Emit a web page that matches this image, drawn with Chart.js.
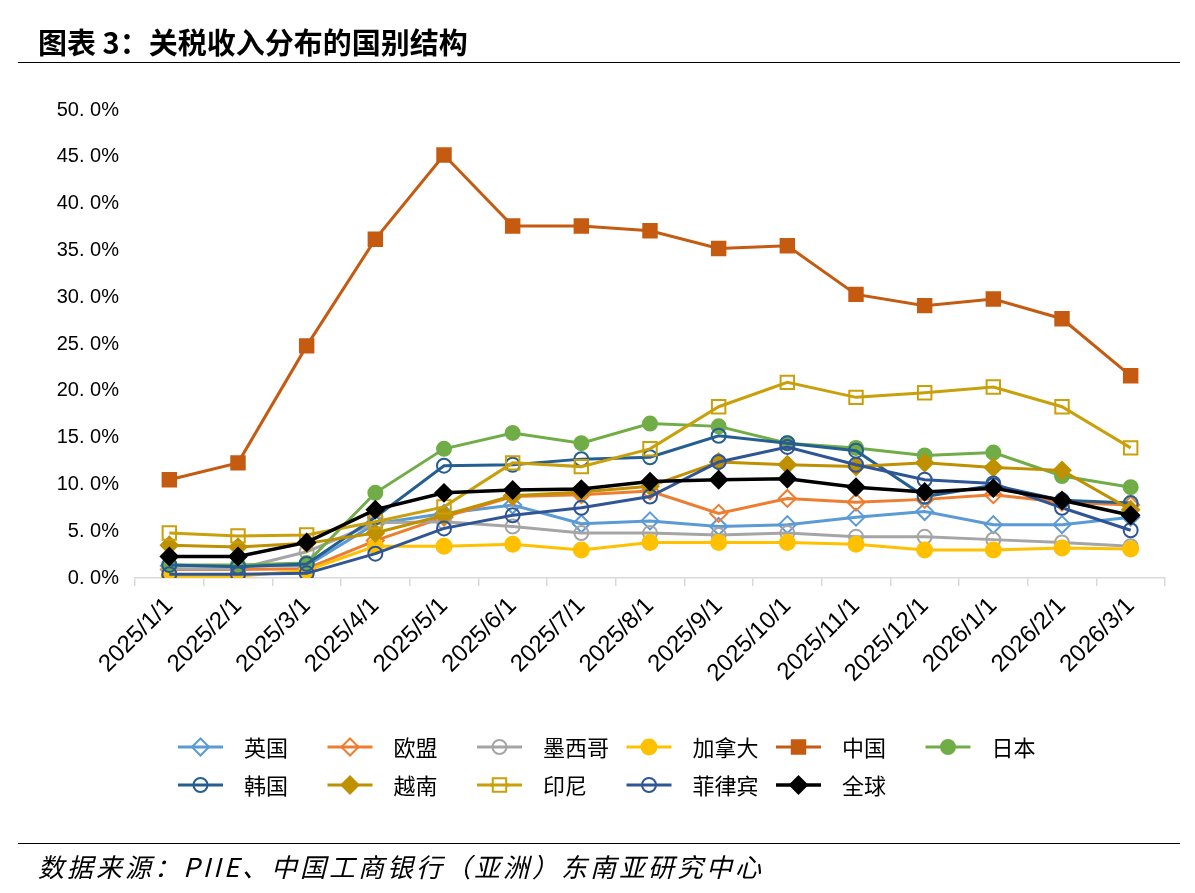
<!DOCTYPE html>
<html>
<head>
<meta charset="utf-8">
<script src="https://cdn.jsdelivr.net/npm/chart.js@4"></script>
<style>
  body { margin: 0; background: #fff; }
  #wrap { position: relative; width: 1195px; height: 893px; overflow: hidden; }
  #chart { position: absolute; left: 0; top: 0; }
  .title { position: absolute; left: 38px; top: 20px; font: bold 29px "Noto Sans CJK SC", sans-serif; color: #000; }
  .source { position: absolute; left: 38px; top: 847px; font: italic 26px "Noto Sans CJK SC", sans-serif; letter-spacing: 3px; color: #000; }
  .rule { position: absolute; left: 18px; width: 1162px; height: 1px; background: #000; }
</style>
</head>
<body>
<div id="wrap">
  <canvas id="chart" width="1195" height="893"></canvas>
  <div class="title">图表 3：关税收入分布的国别结构</div>
  <div class="rule" style="top:62px"></div>
  <div class="rule" style="top:843px"></div>
  <div class="source">数据来源：PIIE、中国工商银行（亚洲）东南亚研究中心</div>
</div>
<script>
// months on the x axis
const months = ['2025/1/1', '2025/2/1', '2025/3/1', '2025/4/1', '2025/5/1', '2025/6/1', '2025/7/1',
  '2025/8/1', '2025/9/1', '2025/10/1', '2025/11/1', '2025/12/1', '2026/1/1', '2026/2/1', '2026/3/1'];

// share of tariff revenue, %
const uk      = [1.3, 1.3, 1.3, 5.8, 6.9, 7.8, 5.8, 6.1, 5.5, 5.7, 6.5, 7.1, 5.7, 5.7, 6.5];
const eu      = [0.9, 0.9, 1.0, 4.0, 6.5, 8.7, 8.9, 9.3, 6.9, 8.5, 8.1, 8.4, 8.9, 8.1, 7.8];
const mexico  = [1.0, 1.0, 2.8, 5.9, 6.0, 5.5, 4.8, 4.8, 4.6, 4.8, 4.4, 4.4, 4.1, 3.8, 3.4];
const canada  = [0.2, 0.2, 0.8, 3.4, 3.4, 3.6, 3.0, 3.8, 3.8, 3.8, 3.6, 3.0, 3.0, 3.2, 3.1];
const china   = [10.5, 12.3, 24.8, 36.2, 45.2, 37.6, 37.6, 37.1, 35.2, 35.5, 30.3, 29.1, 29.8, 27.7, 21.6];
const japan   = [1.4, 1.4, 1.6, 9.1, 13.8, 15.5, 14.4, 16.5, 16.2, 14.4, 13.9, 13.1, 13.4, 10.9, 9.7];
const korea   = [1.4, 1.2, 1.5, 6.5, 12.0, 12.1, 12.7, 12.9, 15.2, 14.4, 13.6, 8.7, 9.9, 8.3, 8.0];
const vietnam = [3.5, 3.3, 3.7, 4.8, 6.7, 8.8, 9.2, 9.8, 12.4, 12.1, 11.9, 12.3, 11.8, 11.5, 7.3];
const india   = [4.8, 4.5, 4.6, 6.0, 7.6, 12.3, 11.9, 13.8, 18.3, 20.9, 19.3, 19.8, 20.4, 18.3, 13.9];
const phil    = [0.4, 0.4, 0.5, 2.6, 5.3, 6.7, 7.5, 8.7, 12.4, 14.0, 12.1, 10.5, 10.1, 7.5, 5.1];
const world   = [2.3, 2.3, 3.8, 7.3, 9.1, 9.4, 9.5, 10.3, 10.5, 10.6, 9.7, 9.2, 9.6, 8.3, 6.7];

const yTicks = [0, 5, 10, 15, 20, 25, 30, 35, 40, 45, 50];

// marker radius per style (chart.js rect/rectRot come out smaller than circles)
const markerSize = { circle: 7, rect: 9.5, rectRot: 8.5 };

function series(label, data, color, style, filled, extra) {
  return Object.assign({
    label: label,
    data: data,
    borderColor: color,
    backgroundColor: filled ? color : 'rgba(0,0,0,0)',
    borderWidth: 3,
    pointStyle: style,
    pointRadius: markerSize[style],
    pointBorderWidth: 2,
    pointBorderColor: color,
    pointBackgroundColor: filled ? color : 'rgba(0,0,0,0)',
    tension: 0
  }, extra || {});
}

const datasets = [
  series('英国', uk, '#5B9BD5', 'rectRot', false),
  series('欧盟', eu, '#ED7D31', 'rectRot', false),
  series('墨西哥', mexico, '#A5A5A5', 'circle', false),
  series('加拿大', canada, '#FFC000', 'circle', true, { pointRadius: 7.5 }),
  series('中国', china, '#C55A11', 'rect', true),
  series('日本', japan, '#70AD47', 'circle', true),
  series('韩国', korea, '#255E91', 'circle', false),
  series('越南', vietnam, '#BF9000', 'rectRot', true),
  series('印尼', india, '#C9A00A', 'rect', false),
  series('菲律宾', phil, '#2F5597', 'circle', false),
  series('全球', world, '#000000', 'rectRot', true, { borderWidth: 3.5 })
];
// later series sit on top, like the original
datasets.forEach((d, i) => { d.order = datasets.length - i; });

// legend: line with marker in the middle, 6 per row
const lineLegend = {
  id: 'lineLegend',
  afterDraw(chart) {
    const ctx = chart.ctx;
    const h = Chart.helpers;
    chart.data.datasets.forEach((ds, i) => {
      const row = Math.floor(i / 6), col = i % 6;
      const x0 = 178 + col * 149.5;
      const y = 747 + row * 38;
      const hollow = ds.pointBackgroundColor === 'rgba(0,0,0,0)';
      ctx.save();
      ctx.strokeStyle = ds.borderColor;
      ctx.lineWidth = ds.borderWidth;
      ctx.beginPath();
      ctx.moveTo(x0, y);
      ctx.lineTo(x0 + 45, y);
      ctx.stroke();
      ctx.fillStyle = hollow ? '#fff' : ds.pointBackgroundColor;
      ctx.strokeStyle = ds.pointBorderColor;
      ctx.lineWidth = 2;
      h.drawPoint(ctx, { pointStyle: ds.pointStyle, radius: ds.pointRadius, rotation: 0, borderWidth: 2 }, x0 + 22.5, y);
      if (hollow) {
        ctx.strokeStyle = ds.borderColor;
        ctx.lineWidth = ds.borderWidth;
        ctx.beginPath();
        ctx.moveTo(x0 + 22.5 - ds.pointRadius, y);
        ctx.lineTo(x0 + 22.5 + ds.pointRadius, y);
        ctx.stroke();
      }
      ctx.fillStyle = '#000';
      ctx.font = '22px "Noto Sans CJK SC", sans-serif';
      ctx.textBaseline = 'middle';
      ctx.fillText(ds.label, x0 + 66, y + 1);
      ctx.restore();
    });
  }
};

new Chart(document.getElementById('chart'), {
  type: 'line',
  data: { labels: months, datasets: datasets },
  options: {
    responsive: false,
    animation: false,
    layout: { padding: { top: 110, right: 30, left: 0, bottom: 0 } },
    plugins: { legend: { display: false }, tooltip: { enabled: false } },
    scales: {
      x: {
        offset: true,
        grid: { offset: true, drawOnChartArea: false, tickLength: 8, color: '#D9D9D9', lineWidth: 1.5 },
        border: { color: '#D9D9D9', width: 1.5 },
        ticks: {
          minRotation: 45, maxRotation: 45, autoSkip: false, padding: 6,
          color: '#000', font: { family: '"Liberation Sans", Arial, sans-serif', size: 24 }
        },
        afterFit(scale) { scale.height = 893 - 578; }
      },
      y: {
        min: 0, max: 50,
        grid: { display: false },
        border: { display: false },
        afterBuildTicks(scale) { scale.ticks = yTicks.map(v => ({ value: v })); },
        ticks: {
          padding: 8,
          color: '#000', font: { family: '"Liberation Sans", Arial, sans-serif', size: 20 },
          callback: v => v.toFixed(1).replace('.', '. ') + '%'
        },
        afterFit(scale) { scale.width = 135; }
      }
    }
  },
  plugins: [lineLegend]
});
</script>
</body>
</html>
